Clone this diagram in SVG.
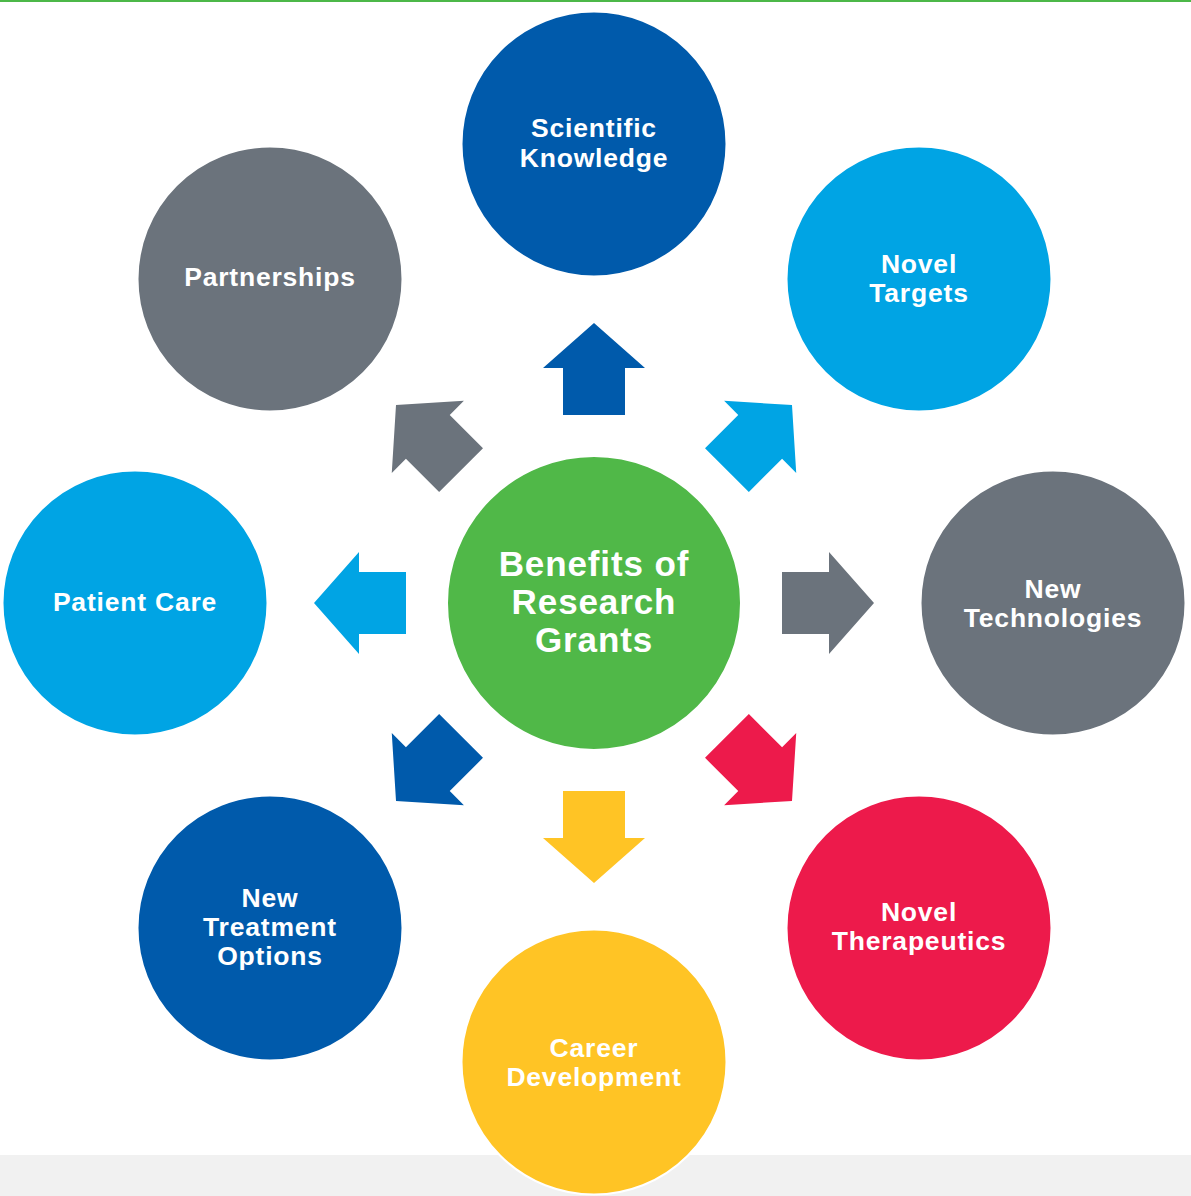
<svg xmlns="http://www.w3.org/2000/svg" xmlns:xlink="http://www.w3.org/1999/xlink" width="1191" height="1196" viewBox="0 0 1191 1196">
  <style>
    .node circle { stroke: #ffffff; stroke-width: 2; }
    .lbl { font-family: "Liberation Sans", Arial, sans-serif; font-weight: bold; font-size: 26.5px; letter-spacing: 0.8px; fill: #ffffff; text-anchor: middle; }
    .big { font-size: 35px; letter-spacing: 0.9px; }
    .blue { fill: #005aab; }
    .cyan { fill: #00a4e4; }
    .gray { fill: #6b737c; }
    .red { fill: #ed1a4b; }
    .yellow { fill: #ffc425; }
    .green { fill: #50b848; }
  </style>
  <defs>
    <path id="arrow" d="M -31,-188 L -31,-235 L -51,-235 L 0,-280 L 51,-235 L 31,-235 L 31,-188 Z"/>
  </defs>
  <rect x="0" y="0" width="1191" height="1196" fill="#ffffff"/>
  <rect x="0" y="0" width="1191" height="2" fill="#4cb848"/>
  <rect x="0" y="1155" width="1191" height="41" fill="#f1f1f1"/>

  <g id="connectors">
    <use xlink:href="#arrow" class="blue" transform="translate(594,603) rotate(0)"/>
    <use xlink:href="#arrow" class="cyan" transform="translate(594,603) rotate(45)"/>
    <use xlink:href="#arrow" class="gray" transform="translate(594,603) rotate(90)"/>
    <use xlink:href="#arrow" class="red" transform="translate(594,603) rotate(135)"/>
    <use xlink:href="#arrow" class="yellow" transform="translate(594,603) rotate(180)"/>
    <use xlink:href="#arrow" class="blue" transform="translate(594,603) rotate(225)"/>
    <use xlink:href="#arrow" class="cyan" transform="translate(594,603) rotate(270)"/>
    <use xlink:href="#arrow" class="gray" transform="translate(594,603) rotate(315)"/>
  </g>

  <g id="center" class="node">
    <circle cx="594" cy="603" r="147" class="green"/>
    <text class="lbl big" x="594" y="576">Benefits of</text>
    <text class="lbl big" x="594" y="614">Research</text>
    <text class="lbl big" x="594" y="652">Grants</text>
  </g>

  <g id="scientific-knowledge" class="node">
    <circle cx="594" cy="144" r="132.5" class="blue"/>
    <text class="lbl" x="594" y="137">Scientific</text>
    <text class="lbl" x="594" y="167">Knowledge</text>
  </g>

  <g id="novel-targets" class="node">
    <circle cx="919" cy="279" r="132.5" class="cyan"/>
    <text class="lbl" x="919" y="273">Novel</text>
    <text class="lbl" x="919" y="302">Targets</text>
  </g>

  <g id="new-technologies" class="node">
    <circle cx="1053" cy="603" r="132.5" class="gray"/>
    <text class="lbl" x="1053" y="598">New</text>
    <text class="lbl" x="1053" y="627">Technologies</text>
  </g>

  <g id="novel-therapeutics" class="node">
    <circle cx="919" cy="928" r="132.5" class="red"/>
    <text class="lbl" x="919" y="921">Novel</text>
    <text class="lbl" x="919" y="950">Therapeutics</text>
  </g>

  <g id="career-development" class="node">
    <circle cx="594" cy="1062" r="132.5" class="yellow"/>
    <text class="lbl" x="594" y="1057">Career</text>
    <text class="lbl" x="594" y="1086">Development</text>
  </g>

  <g id="new-treatment-options" class="node">
    <circle cx="270" cy="928" r="132.5" class="blue"/>
    <text class="lbl" x="270" y="907">New</text>
    <text class="lbl" x="270" y="936">Treatment</text>
    <text class="lbl" x="270" y="965">Options</text>
  </g>

  <g id="patient-care" class="node">
    <circle cx="135" cy="603" r="132.5" class="cyan"/>
    <text class="lbl" x="135" y="611">Patient Care</text>
  </g>

  <g id="partnerships" class="node">
    <circle cx="270" cy="279" r="132.5" class="gray"/>
    <text class="lbl" x="270" y="286">Partnerships</text>
  </g>
</svg>
